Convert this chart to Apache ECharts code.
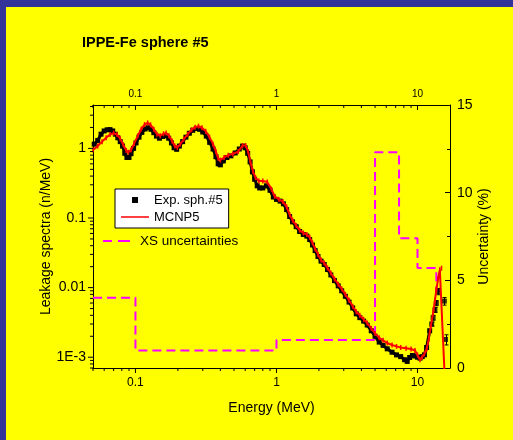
<!DOCTYPE html>
<html>
<head>
<meta charset="utf-8">
<script src="https://cdn.jsdelivr.net/npm/echarts@6/dist/echarts.min.js"></script>
<style>
html, body { margin: 0; padding: 0; background: #ffff00; }
#chart { width: 513px; height: 440px; }
</style>
</head>
<body>
<div id="chart"></div>
<script>
const FONT = '"Liberation Sans", Arial, Helvetica, sans-serif';

// Measured leakage spectrum of the iron sphere: energy (MeV), flux (n/MeV)
const expEnergy = [0.051, 0.054, 0.057, 0.060, 0.063, 0.066, 0.069, 0.072, 0.075, 0.078, 0.081, 0.084, 0.087, 0.090, 0.093, 0.097,
  0.101, 0.106, 0.111, 0.117, 0.123, 0.129, 0.135, 0.141, 0.148, 0.156, 0.164, 0.172, 0.180, 0.188, 0.196, 0.205, 0.216, 0.228,
  0.241, 0.255, 0.270, 0.285, 0.300, 0.318, 0.336, 0.355, 0.372, 0.386, 0.400, 0.420, 0.445, 0.475, 0.510, 0.545, 0.575, 0.600,
  0.625, 0.650, 0.675, 0.700, 0.730, 0.760, 0.800, 0.850, 0.900, 0.950, 1.00, 1.06, 1.12, 1.18, 1.24, 1.30, 1.38, 1.46, 1.55,
  1.64, 1.72, 1.80, 1.88, 1.97, 2.07, 2.18, 2.30, 2.43, 2.58, 2.74, 2.90, 3.08, 3.27, 3.47, 3.68, 3.90, 4.15, 4.40, 4.70, 5.00,
  5.35, 5.70, 6.10, 6.60, 7.10, 7.60, 8.10, 8.45, 8.80, 9.20, 9.60, 10.0, 10.4, 10.8, 11.2, 11.6, 12.2];
const expFlux = [1.15, 1.30, 1.60, 1.78, 1.85, 1.86, 1.78, 1.60, 1.42, 1.25, 1.08, 0.85, 0.74, 0.74, 0.84, 1.00,
  1.20, 1.45, 1.70, 1.90, 1.98, 1.88, 1.68, 1.50, 1.40, 1.48, 1.52, 1.40, 1.20, 1.02, 0.97, 1.08, 1.25, 1.45,
  1.65, 1.82, 1.93, 1.88, 1.72, 1.50, 1.22, 0.98, 0.76, 0.60, 0.58, 0.66, 0.74, 0.78, 0.86, 0.98, 1.08, 1.02,
  0.85, 0.64, 0.46, 0.36, 0.29, 0.27, 0.27, 0.29, 0.25, 0.20, 0.185, 0.175, 0.160, 0.132, 0.105, 0.088, 0.075, 0.064, 0.058,
  0.055, 0.049, 0.041, 0.034, 0.028, 0.024, 0.0215, 0.0182, 0.0152, 0.0126, 0.0106, 0.0090, 0.0075, 0.0062, 0.0051, 0.0042, 0.0037, 0.0033, 0.0029, 0.0024, 0.0020,
  0.00165, 0.00148, 0.00132, 0.00118, 0.00108, 0.00102, 0.00092, 0.00087, 0.00099, 0.00106, 0.00104, 0.00100, 0.00097, 0.00102, 0.00108, 0.00138, 0.0024];

// Sparse high-energy measured points with their errors
const expTailEnergy = [12.6, 12.9, 13.3, 13.6, 14.0, 15.5, 15.8];
const expTailFlux = [0.0030, 0.0037, 0.0048, 0.0060, 0.0088, 0.0064, 0.0018];
const expTailErr = [0.0002, 0.0003, 0.0004, 0.0005, 0.0009, 0.0008, 0.0003];

// MCNP5 calculation
const mcnpEnergy = [0.050, 0.054, 0.058, 0.062, 0.066, 0.070, 0.074, 0.078, 0.082, 0.086, 0.089, 0.093, 0.098, 0.104, 0.110,
  0.116, 0.122, 0.128, 0.135, 0.142, 0.150, 0.158, 0.165, 0.173, 0.182, 0.190, 0.198, 0.208, 0.220, 0.235, 0.250, 0.265,
  0.280, 0.296, 0.315, 0.335, 0.355, 0.372, 0.386, 0.400, 0.425, 0.455, 0.490, 0.535, 0.575, 0.605, 0.630, 0.655, 0.680,
  0.710, 0.750, 0.800, 0.860, 0.920, 0.970, 1.04, 1.11, 1.18, 1.24, 1.30, 1.38, 1.46, 1.55, 1.64, 1.72, 1.80, 1.88, 1.97,
  2.07, 2.18, 2.30, 2.43, 2.58, 2.74, 2.90, 3.08, 3.27, 3.47, 3.68, 3.90, 4.15, 4.40, 4.70, 5.00, 5.35, 5.70, 6.10, 6.60,
  7.10, 7.60, 8.30, 9.00, 9.60, 10.0, 10.4, 10.8, 11.2, 11.6, 12.0, 12.4, 12.9, 13.3, 13.6, 14.0, 14.4, 14.8, 15.55];
const mcnpFlux = [0.95, 1.08, 1.25, 1.42, 1.58, 1.66, 1.58, 1.38, 1.13, 0.93, 0.88, 0.95, 1.18, 1.52, 1.90,
  2.20, 2.32, 2.18, 1.88, 1.60, 1.52, 1.62, 1.66, 1.52, 1.28, 1.08, 1.03, 1.15, 1.35, 1.60, 1.85, 2.02,
  2.08, 1.98, 1.76, 1.45, 1.15, 0.90, 0.72, 0.68, 0.74, 0.80, 0.83, 0.90, 1.10, 1.10, 0.90, 0.62, 0.47,
  0.38, 0.34, 0.34, 0.33, 0.26, 0.205, 0.185, 0.172, 0.145, 0.112, 0.093, 0.078, 0.067, 0.061, 0.058, 0.053, 0.044, 0.036, 0.030,
  0.025, 0.0225, 0.0192, 0.0162, 0.0133, 0.0112, 0.0096, 0.0080, 0.0066, 0.0054, 0.0045, 0.0040, 0.0035, 0.0031, 0.0026, 0.0022, 0.0019, 0.00175, 0.0016, 0.0015,
  0.00143, 0.00138, 0.00135, 0.00131, 0.00125, 0.00108, 0.00092, 0.00100, 0.00112, 0.00130, 0.00180, 0.0027, 0.0043, 0.0066, 0.0093, 0.0135, 0.0180, 0.0190, 0.0006];

// Cross-section uncertainty per energy group (%), group lower bounds
const xsEnergy = [0.05, 0.1, 1, 5, 7.4, 10, 13.6, 15.5];
const xsUncertainty = [4.0, 1.0, 1.6, 12.3, 7.4, 5.7, 4.4, 4.4];

// Axis ticks and labels
const energyMajorTicks = [0.1, 1, 10];
const energyTickLabels = ['0.1', '1', '10'];
const energyMinorTicks = [0.05, 0.06, 0.07, 0.08, 0.09, 0.2, 0.3, 0.4, 0.5, 0.6, 0.7, 0.8, 0.9, 2, 3, 4, 5, 6, 7, 8, 9];
const fluxMajorTicks = [0.001, 0.01, 0.1, 1];
const fluxTickLabels = ['1E-3', '0.01', '0.1', '1'];
const fluxMinorTicks = [0.0007, 0.0008, 0.0009, 0.002, 0.003, 0.004, 0.005, 0.006, 0.007, 0.008, 0.009,
  0.02, 0.03, 0.04, 0.05, 0.06, 0.07, 0.08, 0.09, 0.2, 0.3, 0.4, 0.5, 0.6, 0.7, 0.8, 0.9, 2, 3, 4];

const E_MIN = 0.05, E_MAX = 17, F_MIN = 0.0007, F_MAX = 4.2;
const MAJOR_LEN = 5, MINOR_LEN = 3;

const zip = (a, b) => a.map((v, i) => [v, b[i]]);

function logLabel(v, majors, labels) {
  for (let i = 0; i < majors.length; i++) {
    if (Math.abs(Math.log10(v) - Math.log10(majors[i])) < 1e-6) return labels[i];
  }
  return '';
}

// Tick marks of the log axes, drawn as thin rectangles anchored on the frame
function tickItem(value, len, vertical, dir) {
  return {
    value: value,
    symbolSize: vertical ? [1, len] : [len, 1],
    symbolOffset: vertical ? [0, dir * len / 2] : [dir * len / 2, 0]
  };
}
const bottomTicks = energyMajorTicks.map(e => tickItem([e, F_MIN], MAJOR_LEN, true, 1))
  .concat(energyMinorTicks.map(e => tickItem([e, F_MIN], MINOR_LEN, true, 1)));
const topTicks = energyMajorTicks.map(e => tickItem([e, F_MAX], MAJOR_LEN, true, 1))
  .concat(energyMinorTicks.map(e => tickItem([e, F_MAX], MINOR_LEN, true, 1)));
const leftTicks = fluxMajorTicks.map(f => tickItem([E_MIN, f], MAJOR_LEN, false, -1))
  .concat(fluxMinorTicks.map(f => tickItem([E_MIN, f], MINOR_LEN, false, -1)));

function tickSeries(data) {
  return {
    type: 'scatter',
    xAxisIndex: 0,
    yAxisIndex: 0,
    data: data,
    symbol: 'rect',
    clip: false,
    silent: true,
    itemStyle: { color: '#000', opacity: 1 },
    emphasis: { disabled: true },
    z: 6
  };
}

// Vertical error bars with short caps
const expTailData = expTailEnergy.map((e, i) => [e, expTailFlux[i], expTailErr[i]]);
function renderErrorBar(params, api) {
  const e = api.value(0), f = api.value(1), d = api.value(2);
  const lo = api.coord([e, f - d]);
  const hi = api.coord([e, f + d]);
  const x = Math.round(lo[0]) + 0.5;
  const st = { stroke: '#000', lineWidth: 1 };
  return {
    type: 'group',
    children: [
      { type: 'line', shape: { x1: x, y1: lo[1], x2: x, y2: hi[1] }, style: st },
      { type: 'line', shape: { x1: x - 2, y1: lo[1], x2: x + 2, y2: lo[1] }, style: st },
      { type: 'line', shape: { x1: x - 2, y1: hi[1], x2: x + 2, y2: hi[1] }, style: st }
    ]
  };
}

const axisLine = { show: true, onZero: false, lineStyle: { color: '#000', width: 1 } };

const option = {
  animation: false,
  backgroundColor: '#ffff00',
  textStyle: { fontFamily: FONT, color: '#000' },
  graphic: [
    { type: 'rect', shape: { x: 0, y: 0, width: 513, height: 7 }, style: { fill: '#333399' }, silent: true },
    { type: 'rect', shape: { x: 0, y: 0, width: 6, height: 440 }, style: { fill: '#333399' }, silent: true }
  ],
  title: {
    text: 'IPPE-Fe sphere #5',
    left: 82,
    top: 35,
    padding: 0,
    textStyle: { fontFamily: FONT, fontSize: 14.5, fontWeight: 'bold', color: '#000' }
  },
  legend: [
    {
      left: 115,
      top: 189,
      orient: 'vertical',
      selectedMode: false,
      backgroundColor: '#ffffff',
      borderColor: '#000',
      borderWidth: 1,
      borderRadius: 0,
      padding: [4, 6, 4, 6],
      itemWidth: 28,
      itemHeight: 6,
      itemGap: 3,
      textStyle: { fontFamily: FONT, fontSize: 13, color: '#000', lineHeight: 14 },
      data: [
        { name: 'Exp. sph.#5', icon: 'path://M0,0H10V10H0Z', itemStyle: { color: '#000' } },
        { name: 'MCNP5', icon: 'path://M0,0H28V1.5H0Z', itemStyle: { color: '#ff0000' } }
      ]
    },
    {
      left: 103,
      top: 234,
      orient: 'vertical',
      selectedMode: false,
      padding: 0,
      itemWidth: 27,
      itemHeight: 6,
      textStyle: { fontFamily: FONT, fontSize: 13.5, color: '#000', lineHeight: 14, padding: [0, 0, 0, 5] },
      data: [
        { name: 'XS uncertainties', icon: 'path://M0,0H9V2H0Z M15,0H27V2H15Z', itemStyle: { color: '#ff00ff' } }
      ]
    }
  ],
  grid: { left: 93, right: 63, top: 105, bottom: 72, outerBoundsMode: 'none' },
  xAxis: [
    {
      type: 'log',
      position: 'bottom',
      min: E_MIN,
      max: E_MAX,
      axisLine: axisLine,
      axisTick: { show: false },
      splitLine: { show: false },
      axisLabel: {
        margin: 9,
        fontSize: 12,
        fontFamily: FONT,
        color: '#000',
        interval: 0,
        formatter: v => logLabel(v, energyMajorTicks, energyTickLabels)
      },
      name: 'Energy (MeV)',
      nameLocation: 'middle',
      nameGap: 33,
      nameMoveOverlap: false,
      nameTextStyle: { fontFamily: FONT, fontSize: 14, color: '#000' }
    },
    {
      type: 'log',
      position: 'top',
      min: E_MIN,
      max: E_MAX,
      axisLine: axisLine,
      axisTick: { show: false },
      splitLine: { show: false },
      axisLabel: {
        margin: 6,
        fontSize: 10,
        fontFamily: FONT,
        color: '#000',
        interval: 0,
        formatter: v => logLabel(v, energyMajorTicks, energyTickLabels)
      }
    }
  ],
  yAxis: [
    {
      type: 'log',
      position: 'left',
      min: F_MIN,
      max: F_MAX,
      axisLine: axisLine,
      axisTick: { show: false },
      splitLine: { show: false },
      axisLabel: {
        margin: 7,
        fontSize: 14,
        fontFamily: FONT,
        color: '#000',
        interval: 0,
        formatter: v => logLabel(v, fluxMajorTicks, fluxTickLabels)
      },
      name: 'Leakage spectra (n/MeV)',
      nameLocation: 'middle',
      nameRotate: 90,
      nameGap: 40,
      nameMoveOverlap: false,
      nameTextStyle: { fontFamily: FONT, fontSize: 14, color: '#000' }
    },
    {
      type: 'value',
      position: 'right',
      min: 0,
      max: 15,
      interval: 5,
      axisLine: axisLine,
      axisTick: { show: true, inside: true, length: 5, lineStyle: { color: '#000' } },
      minorTick: { show: true, splitNumber: 2, length: 3, lineStyle: { color: '#000' } },
      splitLine: { show: false },
      axisLabel: { margin: 7, fontSize: 14, fontFamily: FONT, color: '#000' },
      name: 'Uncertainty (%)',
      nameLocation: 'middle',
      nameRotate: 90,
      nameGap: 27,
      nameMoveOverlap: false,
      nameTextStyle: { fontFamily: FONT, fontSize: 14, color: '#000' }
    }
  ],
  series: [
    {
      name: 'XS uncertainties',
      type: 'line',
      xAxisIndex: 0,
      yAxisIndex: 1,
      step: 'end',
      symbol: 'none',
      showSymbol: false,
      data: zip(xsEnergy, xsUncertainty),
      lineStyle: { color: '#ff00ff', width: 2, type: [9, 5] },
      itemStyle: { color: '#ff00ff' },
      z: 2
    },
    {
      name: 'Exp. sph.#5',
      type: 'line',
      xAxisIndex: 0,
      yAxisIndex: 0,
      data: zip(expEnergy, expFlux),
      symbol: 'rect',
      symbolSize: 5,
      showAllSymbol: true,
      lineStyle: { color: '#000', width: 3 },
      itemStyle: { color: '#000' },
      z: 3
    },
    {
      name: 'Exp. sph.#5',
      type: 'scatter',
      xAxisIndex: 0,
      yAxisIndex: 0,
      data: zip(expTailEnergy, expTailFlux),
      symbol: 'rect',
      symbolSize: 5,
      itemStyle: { color: '#000' },
      z: 3
    },
    {
      type: 'custom',
      xAxisIndex: 0,
      yAxisIndex: 0,
      data: expTailData,
      renderItem: renderErrorBar,
      silent: true,
      z: 3
    },
    {
      name: 'MCNP5',
      type: 'line',
      xAxisIndex: 0,
      yAxisIndex: 0,
      data: zip(mcnpEnergy, mcnpFlux),
      symbol: 'rect',
      symbolSize: [1.5, 5],
      showAllSymbol: true,
      lineStyle: { color: '#ff0000', width: 2 },
      itemStyle: { color: '#ff0000' },
      z: 4
    },
    tickSeries(bottomTicks),
    tickSeries(topTicks),
    tickSeries(leftTicks)
  ]
};

const chart = echarts.init(document.getElementById('chart'), null, { renderer: 'canvas' });
chart.setOption(option);
</script>
</body>
</html>
